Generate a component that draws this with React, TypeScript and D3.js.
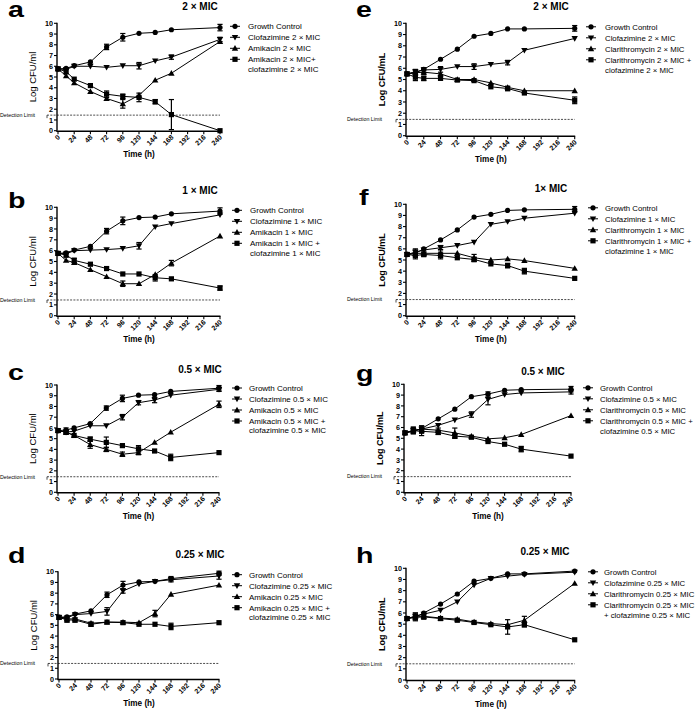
import React from 'react';
import * as d3 from 'd3';

const times = [0, 12, 24, 48, 72, 96, 120, 144, 168, 240];
const xTicks = [0, 24, 48, 72, 96, 120, 144, 168, 192, 216, 240];
const yTicks = [0, 1, 2, 3, 4, 5, 6, 7, 8, 9, 10];
const detectionLimit = 1.45;

// Panel a (2 × MIC, amikacin)
const aGC = [5.75, 5.8, 6.05, 6.4, 7.8, 8.7, 9.07, 9.15, 9.4, 9.6];
const aGCErr = [0.1, 0.15, 0.1, 0.15, 0.25, 0.35, 0.1, 0.1, 0.1, 0.3];
const aClof = [5.75, 5.7, 6.0, 6.0, 5.9, 6.05, 6.05, 6.5, 6.85, 8.5];
const aClofErr = [0.1, 0.1, 0.1, 0.1, 0.1, 0.1, 0.3, 0.1, 0.2, 0.2];
const aDrug = [5.75, 5.1, 4.45, 3.65, 3.0, 2.5, 3.3, 4.7, 5.35, 8.3];
const aDrugErr = [0.1, 0.1, 0.15, 0.1, 0.15, 0.4, 0.1, 0.1, 0.1, 0.1];
const aCombo = [5.75, 5.5, 4.8, 4.2, 3.4, 3.2, 3.1, 2.7, 1.5, 0];
const aComboErr = [0.1, 0.2, 0.15, 0.1, 0.3, 0.2, 0.4, 0.2, 1.4, 0.1];

// Panel b (1 × MIC, amikacin)
const bGC = [5.75, 5.8, 6.05, 6.4, 7.8, 8.75, 9.05, 9.1, 9.4, 9.65];
const bGCErr = [0.1, 0.15, 0.1, 0.1, 0.25, 0.35, 0.1, 0.1, 0.1, 0.3];
const bClof = [5.75, 5.7, 6.0, 6.05, 6.1, 6.2, 6.45, 8.2, 8.5, 9.3];
const bClofErr = [0.1, 0.1, 0.1, 0.1, 0.1, 0.1, 0.3, 0.1, 0.1, 0.1];
const bDrug = [5.75, 5.1, 4.9, 4.25, 3.6, 2.95, 2.95, 3.8, 4.85, 7.35];
const bDrugErr = [0.1, 0.1, 0.1, 0.1, 0.1, 0.25, 0.1, 0.1, 0.25, 0.1];
const bCombo = [5.75, 5.6, 5.1, 4.75, 4.35, 3.85, 3.85, 3.5, 3.4, 2.55];
const bComboErr = [0.1, 0.2, 0.2, 0.1, 0.1, 0.1, 0.1, 0.3, 0.1, 0.2];

// Panel c (0.5 × MIC, amikacin)
const cGC = [5.75, 5.8, 6.0, 6.4, 7.85, 8.75, 9.05, 9.1, 9.4, 9.7];
const cGCErr = [0.1, 0.2, 0.1, 0.1, 0.2, 0.3, 0.1, 0.1, 0.1, 0.25];
const cClof = [5.75, 5.6, 5.7, 6.2, 6.2, 7.0, 8.35, 8.6, 9.05, 9.6];
const cClofErr = [0.1, 0.1, 0.1, 0.1, 0.1, 0.25, 0.2, 0.25, 0.1, 0.2];
const cDrug = [5.75, 5.6, 5.3, 4.45, 4.0, 3.55, 3.7, 4.65, 5.6, 8.2];
const cDrugErr = [0.1, 0.1, 0.15, 0.35, 0.2, 0.2, 0.2, 0.1, 0.1, 0.3];
const cCombo = [5.75, 5.6, 5.3, 4.95, 4.65, 4.35, 4.05, 3.85, 3.25, 3.7];
const cComboErr = [0.1, 0.2, 0.15, 0.2, 0.5, 0.1, 0.3, 0.1, 0.3, 0.1];

// Panel d (0.25 × MIC, amikacin)
const dGC = [5.75, 5.8, 6.05, 6.35, 7.85, 8.75, 9.05, 9.1, 9.35, 9.85];
const dGCErr = [0.1, 0.15, 0.1, 0.15, 0.25, 0.35, 0.1, 0.1, 0.2, 0.2];
const dClof = [5.75, 5.7, 6.0, 6.1, 6.3, 8.2, 8.85, 9.1, 9.25, 9.6];
const dClofErr = [0.1, 0.1, 0.1, 0.1, 0.35, 0.2, 0.1, 0.1, 0.2, 0.3];
const dDrug = [5.75, 5.6, 5.6, 5.2, 5.3, 5.3, 5.25, 6.1, 7.9, 8.75];
const dDrugErr = [0.1, 0.1, 0.1, 0.1, 0.1, 0.1, 0.1, 0.3, 0.1, 0.1];
const dCombo = [5.75, 5.5, 5.5, 5.1, 5.3, 5.25, 5.1, 5.1, 4.9, 5.25];
const dComboErr = [0.1, 0.2, 0.2, 0.2, 0.1, 0.1, 0.1, 0.1, 0.3, 0.1];

// Panel e (2 × MIC, clarithromycin)
const eGC = [5.5, 5.6, 5.9, 6.8, 7.7, 8.85, 9.1, 9.5, 9.5, 9.55];
const eGCErr = [0.1, 0.1, 0.1, 0.1, 0.1, 0.1, 0.1, 0.1, 0.1, 0.25];
const eClof = [5.5, 5.7, 5.85, 5.9, 6.15, 6.15, 6.35, 6.5, 7.6, 8.65];
const eClofErr = [0.1, 0.2, 0.2, 0.25, 0.1, 0.25, 0.1, 0.2, 0.1, 0.1];
const eDrug = [5.5, 5.6, 5.65, 5.5, 5.0, 5.0, 4.7, 4.3, 4.0, 4.0];
const eDrugErr = [0.1, 0.2, 0.2, 0.1, 0.1, 0.1, 0.1, 0.1, 0.1, 0.1];
const eCombo = [5.5, 5.2, 5.1, 5.1, 4.95, 4.9, 4.35, 4.2, 3.8, 3.15];
const eComboErr = [0.1, 0.3, 0.2, 0.15, 0.1, 0.15, 0.15, 0.2, 0.1, 0.3];

// Panel f (1 × MIC, clarithromycin)
const fGC = [5.5, 5.6, 6.0, 6.8, 7.7, 8.85, 9.1, 9.45, 9.5, 9.55];
const fGCErr = [0.1, 0.1, 0.1, 0.1, 0.1, 0.1, 0.1, 0.1, 0.1, 0.25];
const fClof = [5.5, 5.7, 5.9, 6.1, 6.3, 6.6, 8.2, 8.45, 8.75, 9.2];
const fClofErr = [0.1, 0.3, 0.1, 0.2, 0.1, 0.1, 0.1, 0.1, 0.1, 0.1];
const fDrug = [5.5, 5.6, 5.6, 5.6, 5.6, 5.2, 5.0, 5.1, 4.95, 4.25];
const fDrugErr = [0.1, 0.3, 0.2, 0.35, 0.1, 0.3, 0.1, 0.1, 0.1, 0.1];
const fCombo = [5.5, 5.4, 5.5, 5.4, 5.2, 5.05, 4.65, 4.5, 4.0, 3.35];
const fComboErr = [0.1, 0.3, 0.2, 0.3, 0.1, 0.2, 0.15, 0.2, 0.25, 0.1];

// Panel g (0.5 × MIC, clarithromycin)
const gGC = [5.5, 5.65, 5.9, 6.8, 7.7, 8.85, 9.1, 9.45, 9.5, 9.55];
const gGCErr = [0.1, 0.1, 0.1, 0.1, 0.1, 0.1, 0.2, 0.1, 0.1, 0.25];
const gClof = [5.5, 5.7, 5.85, 6.2, 6.7, 7.2, 8.6, 9.05, 9.2, 9.3];
const gClofErr = [0.1, 0.2, 0.3, 0.15, 0.1, 0.25, 0.5, 0.1, 0.1, 0.2];
const gDrug = [5.5, 5.75, 5.85, 5.75, 5.5, 5.2, 4.95, 5.05, 5.35, 7.1];
const gDrugErr = [0.1, 0.3, 0.3, 0.2, 0.45, 0.1, 0.1, 0.1, 0.1, 0.1];
const gCombo = [5.5, 5.7, 5.65, 5.55, 5.2, 5.1, 4.7, 4.45, 4.0, 3.35];
const gComboErr = [0.1, 0.3, 0.4, 0.2, 0.2, 0.1, 0.15, 0.1, 0.25, 0.1];

// Panel h (0.25 × MIC, clarithromycin)
const hGC = [5.5, 5.65, 6.0, 6.8, 7.7, 8.85, 9.1, 9.5, 9.5, 9.75];
const hGCErr = [0.1, 0.1, 0.1, 0.1, 0.1, 0.1, 0.1, 0.1, 0.1, 0.15];
const hClof = [5.5, 5.7, 5.9, 6.25, 7.0, 8.5, 9.1, 9.3, 9.45, 9.65];
const hClofErr = [0.1, 0.3, 0.1, 0.1, 0.1, 0.1, 0.1, 0.1, 0.1, 0.1];
const hDrug = [5.5, 5.7, 5.7, 5.55, 5.45, 5.2, 5.05, 4.95, 5.35, 8.65];
const hDrugErr = [0.1, 0.3, 0.1, 0.1, 0.1, 0.1, 0.1, 0.1, 0.35, 0.1];
const hCombo = [5.5, 5.6, 5.65, 5.5, 5.35, 5.15, 4.95, 4.75, 4.95, 3.6];
const hComboErr = [0.1, 0.3, 0.2, 0.15, 0.15, 0.1, 0.1, 0.65, 0.2, 0.1];

const panelLetters = ['a', 'b', 'c', 'd', 'e', 'f', 'g', 'h'];
const panelTitles = ['2 × MIC', '1 × MIC', '0.5 × MIC', '0.25 × MIC', '2 × MIC', '1× MIC', '0.5 × MIC', '0.25 × MIC'];
const legendA = [['Growth Control'], ['Clofazimine 2 × MIC'], ['Amikacin 2 × MIC'], ['Amikacin 2 × MIC+', 'clofazimine 2 × MIC']];
const legendB = [['Growth Control'], ['Clofazimine 1 × MIC'], ['Amikacin 1 × MIC'], ['Amikacin 1 × MIC +', 'clofazimine 1 × MIC']];
const legendC = [['Growth Control'], ['Clofazimine 0.5 × MIC'], ['Amikacin 0.5 × MIC'], ['Amikacin 0.5 × MIC +', 'clofazimine 0.5 × MIC']];
const legendD = [['Growth Control'], ['Clofazimine 0.25 × MIC'], ['Amikacin 0.25 × MIC'], ['Amikacin 0.25 × MIC +', 'clofazimine 0.25 × MIC']];
const legendE = [['Growth Control'], ['Clofazimine 2 × MIC'], ['Clarithromycin 2 × MIC'], ['Clarithromycin 2 × MIC +', 'clofazimine 2 × MIC']];
const legendF = [['Growth Control'], ['Clofazimine 1 × MIC'], ['Clarithromycin 1 × MIC'], ['Clarithromycin 1 × MIC +', 'clofazimine 1 × MIC']];
const legendG = [['Growth Control'], ['Clofazimine 0.5 × MIC'], ['Clarithromycin 0.5 × MIC'], ['Clarithromycin 0.5 × MIC +', 'clofazimine 0.5 × MIC']];
const legendH = [['Growth Control'], ['Clofazimine 0.25 × MIC'], ['Clarithromycin 0.25 × MIC'], ['Clarithromycin 0.25 × MIC', '+ clofazimine 0.25 × MIC']];
const yLabels = ['Log CFU/ml', 'Log CFU/mL'];
const xLabel = 'Time (h)';
const detectionText = 'Detection Limit';
const markerShapes = ['circle', 'down', 'up', 'square'];

const panelData = [
  { vals: [aGC, aClof, aDrug, aCombo], errs: [aGCErr, aClofErr, aDrugErr, aComboErr], legend: legendA },
  { vals: [bGC, bClof, bDrug, bCombo], errs: [bGCErr, bClofErr, bDrugErr, bComboErr], legend: legendB },
  { vals: [cGC, cClof, cDrug, cCombo], errs: [cGCErr, cClofErr, cDrugErr, cComboErr], legend: legendC },
  { vals: [dGC, dClof, dDrug, dCombo], errs: [dGCErr, dClofErr, dDrugErr, dComboErr], legend: legendD },
  { vals: [eGC, eClof, eDrug, eCombo], errs: [eGCErr, eClofErr, eDrugErr, eComboErr], legend: legendE },
  { vals: [fGC, fClof, fDrug, fCombo], errs: [fGCErr, fClofErr, fDrugErr, fComboErr], legend: legendF },
  { vals: [gGC, gClof, gDrug, gCombo], errs: [gGCErr, gClofErr, gDrugErr, gComboErr], legend: legendG },
  { vals: [hGC, hClof, hDrug, hCombo], errs: [hGCErr, hClofErr, hDrugErr, hComboErr], legend: legendH },
];

// Layout (pixel geometry)
const layouts = [
  { x0: 58, x1: 220, yT: 23.3, yB: 130.7, lx: 8, ly: 17, tx: 200, ty: 10, legM: 235, legT: 248, detX: 0, side: 0 },
  { x0: 58, x1: 220, yT: 207.3, yB: 315.7, lx: 8, ly: 208, tx: 200, ty: 194, legM: 237, legT: 250, detX: 0, side: 0 },
  { x0: 58, x1: 219, yT: 385, yB: 492.3, lx: 8, ly: 380, tx: 200, ty: 373, legM: 237, legT: 249, detX: 0, side: 0 },
  { x0: 59, x1: 219, yT: 571.7, yB: 679, lx: 8, ly: 563, tx: 200, ty: 558, legM: 237, legT: 249, detX: 0, side: 0 },
  { x0: 407, x1: 574.7, yT: 23.3, yB: 135.7, lx: 356, ly: 17, tx: 551, ty: 10, legM: 591, legT: 605, detX: 347, side: 1 },
  { x0: 407, x1: 574.7, yT: 204.3, yB: 315.7, lx: 359, ly: 205, tx: 551, ty: 192, legM: 593, legT: 605, detX: 347, side: 1 },
  { x0: 405, x1: 571, yT: 384.3, yB: 492.3, lx: 356, ly: 381, tx: 543, ty: 375, legM: 588, legT: 600, detX: 347, side: 1 },
  { x0: 407, x1: 574.7, yT: 568.3, yB: 680, lx: 356, ly: 563, tx: 545, ty: 555, legM: 593, legT: 604, detX: 347, side: 1 },
];

const FONT = '"Liberation Sans", Arial, Helvetica, sans-serif';

function Marker({ shape, x, y }: { shape: string; x: number; y: number }) {
  if (shape === 'circle') return <circle cx={x} cy={y} r={2.6} fill="#000" />;
  if (shape === 'square') return <rect x={x - 2.6} y={y - 2.6} width={5.2} height={5.2} fill="#000" />;
  if (shape === 'up') return <path d={`M${x - 3.2},${y + 2.4}L${x + 3.2},${y + 2.4}L${x},${y - 3.2}Z`} fill="#000" />;
  return <path d={`M${x - 3.2},${y - 2.4}L${x + 3.2},${y - 2.4}L${x},${y + 3.2}Z`} fill="#000" />;
}

function Panel({ idx }: { idx: number }) {
  const L = layouts[idx];
  const D = panelData[idx];
  const x = d3.scaleLinear().domain([0, 240]).range([L.x0, L.x1]);
  const y = d3.scaleLinear().domain([0, 10]).range([L.yB, L.yT]);
  const line = d3.line<number>().x((_, i) => x(times[i])).y((v) => y(v));
  const rowOff = L.side === 0 ? [3, 14, 25, 36, 45.5] : [3.5, 14.5, 25.5, 36.5, 46.5];
  const axisX = L.x0 - 1;
  const yDet = y(detectionLimit);
  const legFont = L.side === 0 ? 8 : 7.8;
  return (
    <g>
      <text transform={`translate(${L.lx},${L.ly}) scale(1.3,1)`} fontSize={22} fontWeight="bold" fontFamily={FONT}>{panelLetters[idx]}</text>
      <text x={L.tx} y={L.ty} fontSize={10} fontWeight="bold" fontFamily={FONT} textAnchor="middle">{panelTitles[idx]}</text>
      {/* detection limit */}
      <text x={L.detX} y={yDet + 1.8} fontSize={5.3} fontFamily={FONT}>{detectionText}</text>
      <line x1={axisX - 10} x2={L.x1} y1={yDet} y2={yDet} stroke="#000" strokeWidth={0.7} strokeDasharray="2,1.3" />
      <line x1={axisX - 10} x2={axisX - 10} y1={yDet} y2={yDet + 3} stroke="#000" strokeWidth={0.7} />
      {/* axes */}
      <line x1={axisX} x2={axisX} y1={L.yT - 0.5} y2={L.yB} stroke="#000" strokeWidth={1.4} />
      <line x1={axisX - 0.7} x2={L.x1 + 0.5} y1={L.yB + 0.5} y2={L.yB + 0.5} stroke="#000" strokeWidth={1.4} />
      {yTicks.map((t) => (
        <g key={'y' + t}>
          <line x1={axisX - 3} x2={axisX} y1={y(t)} y2={y(t)} stroke="#000" strokeWidth={1.1} />
          <text x={axisX - 4} y={y(t) + 2.6} fontSize={7.2} fontWeight="bold" fontFamily={FONT} textAnchor="end">{t}</text>
        </g>
      ))}
      {xTicks.map((t) => (
        <g key={'x' + t}>
          <line x1={x(t)} x2={x(t)} y1={L.yB + 0.5} y2={L.yB + 3.5} stroke="#000" strokeWidth={1.1} />
          <text transform={`translate(${x(t) + 2.5},${L.yB + 7}) rotate(-45)`} fontSize={7} fontWeight="bold" fontFamily={FONT} textAnchor="end">{t}</text>
        </g>
      ))}
      <text x={(L.x0 + L.x1) / 2} y={L.yB + 26.5} fontSize={8.2} fontWeight="bold" fontFamily={FONT} textAnchor="middle">{xLabel}</text>
      <text transform={`translate(${L.x0 - 22},${(L.yT + L.yB) / 2}) rotate(-90)`} fontSize={L.side === 0 ? 9.5 : 9} fontWeight={L.side === 0 ? 'normal' : 'bold'} fontFamily={FONT} textAnchor="middle">{yLabels[L.side]}</text>
      {/* series */}
      {D.vals.map((vals, s) => (
        <g key={'s' + s}>
          <path d={line(vals) || ''} fill="none" stroke="#000" strokeWidth={1} />
          {vals.map((v, i) => {
            const e = D.errs[s][i];
            const cx = x(times[i]);
            const top = y(Math.min(10.3, v + e));
            const bot = y(Math.max(0, v - e));
            return (
              <g key={i}>
                {e > 0.18 && (
                  <g stroke="#000" strokeWidth={1.2}>
                    <line x1={cx} x2={cx} y1={top} y2={bot} />
                    <line x1={cx - 2.6} x2={cx + 2.6} y1={top} y2={top} />
                    <line x1={cx - 2.6} x2={cx + 2.6} y1={bot} y2={bot} />
                  </g>
                )}
                <Marker shape={markerShapes[s]} x={cx} y={y(v)} />
              </g>
            );
          })}
        </g>
      ))}
      {/* legend */}
      {D.legend.map((lines, s) => {
        const ry = L.yT + rowOff[s];
        return (
          <g key={'l' + s}>
            <line x1={L.legM - 5} x2={L.legM + 5} y1={ry} y2={ry} stroke="#000" strokeWidth={1} />
            <Marker shape={markerShapes[s]} x={L.legM} y={ry} />
            {lines.map((t, k) => (
              <text key={k} x={L.legT} y={ry + 2.8 + (k === 0 ? 0 : rowOff[4] - rowOff[3])} fontSize={legFont} fontFamily={FONT}>{t}</text>
            ))}
          </g>
        );
      })}
    </g>
  );
}

export default function App() {
  return (
    <svg width={696} height={711} style={{ position: 'absolute', left: 0, top: 0, background: '#fff' }}>
      <rect width={696} height={711} fill="#fff" />
      {layouts.map((_, i) => <Panel key={i} idx={i} />)}
    </svg>
  );
}
